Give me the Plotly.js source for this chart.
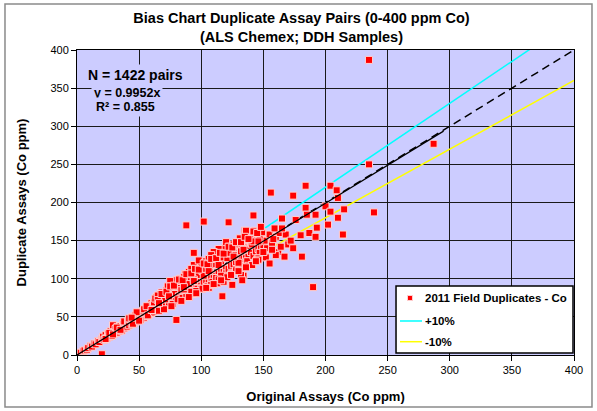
<!DOCTYPE html>
<html><head><meta charset="utf-8">
<script src="https://cdn.plot.ly/plotly-3.0.1.min.js"></script>
<style>html,body{margin:0;padding:0;background:#fff;}#chart{width:597px;height:411px;}</style>
</head><body><div id="chart"></div>
<script>
// ---- data (Co ppm) ----
const origA = [0,1,2,3,5,6,8,9,11,12,14,15,17,18,20,20];
const dupA  = [0,1,2,3,5,6,7,9,12,11,15,14,18,17,21,1];

const origB = [21,22,23,24,25,26,27,28,29,30,31,32,33,34,35,36,37,38,39,40,23,26,29,32,35,38];
const dupB  = [24,20,26,22,28,24,31,25,39,28,34,29,37,31,38,32,41,35,43,37,21,29,27,36,33,44];

const origC = [41,42,43,44,45,46,47,48,49,50,51,52,53,54,55,56,57,58,59,60,42,45,48,51,54,57,60,44,50,56];
const dupC  = [45,39,47,41,50,42,52,44,54,47,56,48,58,49,61,51,63,53,65,55,48,41,56,46,60,52,68,49,45,64];

const origD = [61,62,63,64,65,66,67,68,69,70,71,72,73,74,75,76,77,78,79,80,62,64,66,68,70,72,74,76,78,80,63,67,71,75,79,65,73,77,80];
const dupD  = [66,57,70,60,72,61,75,63,78,65,80,66,83,68,86,70,88,72,90,74,69,76,58,82,64,85,66,92,71,98,74,80,73,97,80,78,90,67,46];

const origE = [81,82,83,84,85,86,87,88,89,90,91,92,93,94,95,96,97,98,99,100,81,83,85,87,89,91,93,95,97,99,82,84,86,88,90,92,94,96,98,100,84,88,92,96,100,86,90,94,98,88,94];
const dupE  = [90,77,93,79,96,80,99,82,101,85,104,86,106,88,110,90,112,91,115,94,73,100,75,106,82,97,80,116,87,103,93,85,102,92,109,83,118,100,105,87,97,76,113,84,120,86,93,99,124,170,134];

const origF = [101,102,103,104,105,106,107,108,109,110,111,112,113,114,115,116,117,118,119,120,101,103,105,107,109,111,113,115,117,119,102,104,106,108,110,112,114,116,118,120,104,108,112,116,120,106,110,114,118,102,108,117];
const dupF  = [110,95,114,98,117,99,120,101,122,104,124,104,127,107,130,109,131,111,134,114,87,121,90,112,96,128,94,136,103,140,104,123,88,118,127,101,139,123,96,107,113,92,119,104,148,126,135,99,128,175,131,77];

const origG = [121,122,123,124,125,126,127,128,129,130,131,132,133,134,135,136,137,138,139,140,121,123,125,127,129,131,133,135,137,139,122,124,126,128,130,132,134,136,138,140,141,142,143,144,145,146,147,148,149,150,141,143,145,147,149,142,146,150,122,132,133,136,141];
const dupG  = [127,113,133,117,136,119,138,122,141,124,143,126,145,128,148,130,150,132,152,135,102,142,92,131,110,153,116,163,123,143,134,106,145,111,121,136,104,151,117,147,145,130,152,136,154,139,157,141,159,144,118,163,125,134,161,149,127,151,174,105,98,163,118];

const origH = [151,153,155,157,160,162,163,168,170,152,146,155,160,150,158,147,235,184,204,156,174,209,210,200,204,215,239,210,202,214,184,192,185,165,176,193,187,192,180,174,181,142,149,159,165,172,164,167,157,235,287,190];
const dupH  = [150,140,158,147,155,135,160,158,145,128,125,120,131,135,152,152,250,222,222,213,209,216,206,195,188,191,187,180,171,158,193,184,184,179,177,167,160,155,157,140,129,183,161,166,166,150,142,129,138,387,277,89];

const origI = [65,68,72,75,78,82,85,88,92,95,98,102,105,108,112,115,118,122,125,128,132,135,138,142,145,148,70,76,84,90,96,104,110,116,124,130,136,144,60,66,74,86,94,106,114,126,134,146];
const dupI  = [72,80,83,90,91,99,98,106,107,113,112,120,119,126,127,134,133,142,141,148,148,155,152,162,160,168,60,64,71,76,81,88,93,98,105,110,115,123,59,68,77,89,97,110,118,129,138,149];

const original  = [].concat(origA, origB, origC, origD, origE, origF, origG, origH, origI);
const duplicate = [].concat(dupA, dupB, dupC, dupD, dupE, dupF, dupG, dupH, dupI);

// reference lines
const lineX      = [0, 400];
const oneToOneY  = [0, 400];
const plusTenY   = [0, 440];
const minusTenY  = [0, 360];
const trendX     = [0, 295];
const trendY     = [0, 293.6];

const tickVals = [0, 50, 100, 150, 200, 250, 300, 350, 400];
const seriesNames = ['2011 Field Duplicates - Co', '+10%', '-10%'];

const FONT = 'Liberation Sans, Arial, Helvetica, sans-serif';

const traces = [
  {x: lineX, y: plusTenY, mode: 'lines', name: seriesNames[1], showlegend: false,
   line: {color: '#00FFFF', width: 1.5}, hoverinfo: 'skip'},
  {x: lineX, y: minusTenY, mode: 'lines', name: seriesNames[2], showlegend: false,
   line: {color: '#FFFF00', width: 1.5}, hoverinfo: 'skip'},
  {x: lineX, y: oneToOneY, mode: 'lines', showlegend: false,
   line: {color: '#000000', width: 1.5, dash: '8px,5px'}, hoverinfo: 'skip'},
  {x: original, y: duplicate, mode: 'markers', name: seriesNames[0], showlegend: false,
   marker: {symbol: 'square', size: 7, color: '#FF0000', line: {color: '#FFD0D0', width: 1}}},
  {x: trendX, y: trendY, mode: 'lines', showlegend: false,
   line: {color: '#000000', width: 1.2}, hoverinfo: 'skip'}
];

const axisCommon = {
  range: [0, 400], tickmode: 'array', tickvals: tickVals, ticktext: tickVals.map(String),
  showgrid: true, gridcolor: '#1a1a1a', gridwidth: 1,
  showline: true, linecolor: '#000', linewidth: 1, mirror: true,
  ticks: 'outside', ticklen: 5, tickcolor: '#000', zeroline: false,
  tickfont: {family: FONT, size: 11, color: '#000'}, fixedrange: true
};

// legend box geometry (paper fractions of the plot area)
const LX0 = 0.6419, LX1 = 0.998, LY0 = 0.0066, LY1 = 0.2262;
const legendRows = [0.1869, 0.1115, 0.0436];
const sampleX0 = 0.6499, sampleX1 = 0.6942, textX = 0.6962, textX2 = 0.6962;

const layout = {
  width: 597, height: 411,
  margin: {l: 77, r: 23, t: 50, b: 56},
  paper_bgcolor: '#ffffff', plot_bgcolor: '#CCCCFF',
  font: {family: FONT, color: '#000', size: 11},
  showlegend: false,
  title: {text: '<b>Bias Chart Duplicate Assay Pairs (0-400 ppm Co)</b><br><b>(ALS Chemex; DDH Samples)</b>',
          font: {family: FONT, size: 14.5, color: '#000'},
          x: 0.505, xanchor: 'center', xref: 'container', y: 0.944, yanchor: 'top', yref: 'container'},
  xaxis: Object.assign({}, axisCommon, {title: {text: '<b>Original Assays (Co ppm)</b>', font: {family: FONT, size: 13}, standoff: 16}}),
  yaxis: Object.assign({}, axisCommon, {title: {text: '<b>Duplicate Assays (Co ppm)</b>', font: {family: FONT, size: 13}, standoff: 20}}),
  annotations: [
    {x: 46.7, y: 367.2, xref: 'x', yref: 'y', text: '<b>N = 1422 pairs</b>', showarrow: false,
     font: {family: FONT, size: 14, color: '#000'}, bgcolor: '#CCCCFF', borderpad: 2},
    {x: 40, y: 344, xref: 'x', yref: 'y', text: '<b>y = 0.9952x</b>', showarrow: false,
     font: {family: FONT, size: 12.5, color: '#000'}, bgcolor: '#CCCCFF', borderpad: 2},
    {x: 38.9, y: 325.6, xref: 'x', yref: 'y', text: '<b>R² = 0.855</b>', showarrow: false,
     font: {family: FONT, size: 12.5, color: '#000'}, bgcolor: '#CCCCFF', borderpad: 2},
    // legend texts
    {x: textX, y: legendRows[0], xref: 'paper', yref: 'paper', xanchor: 'left', yanchor: 'middle',
     text: '<b>' + seriesNames[0] + '</b>', showarrow: false, font: {family: FONT, size: 11.5, color: '#000'}},
    {x: textX2, y: legendRows[1], xref: 'paper', yref: 'paper', xanchor: 'left', yanchor: 'middle',
     text: '<b>' + seriesNames[1] + '</b>', showarrow: false, font: {family: FONT, size: 11.5, color: '#000'}},
    {x: textX2, y: legendRows[2], xref: 'paper', yref: 'paper', xanchor: 'left', yanchor: 'middle',
     text: '<b>' + seriesNames[2] + '</b>', showarrow: false, font: {family: FONT, size: 11.5, color: '#000'}}
  ],
  shapes: [
    {type: 'rect', xref: 'paper', yref: 'paper', x0: -0.1449, x1: 1.0362, y0: -0.1705, y1: 1.1508,
     line: {color: '#8a8a8a', width: 1.5}, fillcolor: 'rgba(0,0,0,0)', layer: 'below'},
    // legend box
    {type: 'rect', xref: 'paper', yref: 'paper', x0: LX0, x1: LX1, y0: LY0, y1: LY1,
     line: {color: '#000', width: 1.5}, fillcolor: '#ffffff', layer: 'above'},
    {type: 'rect', xref: 'paper', yref: 'paper', x0: 0.6650, x1: 0.6750, y0: 0.1787, y1: 0.1951,
     line: {color: '#FFD0D0', width: 1}, fillcolor: '#FF0000', layer: 'above'},
    {type: 'line', xref: 'paper', yref: 'paper', x0: sampleX0, x1: sampleX1, y0: legendRows[1], y1: legendRows[1],
     line: {color: '#00FFFF', width: 1.5}, layer: 'above'},
    {type: 'line', xref: 'paper', yref: 'paper', x0: sampleX0, x1: sampleX1, y0: legendRows[2], y1: legendRows[2],
     line: {color: '#FFFF00', width: 1.5}, layer: 'above'}
  ]
};

Plotly.newPlot('chart', traces, layout, {displayModeBar: false, staticPlot: true});
</script>
</body></html>
